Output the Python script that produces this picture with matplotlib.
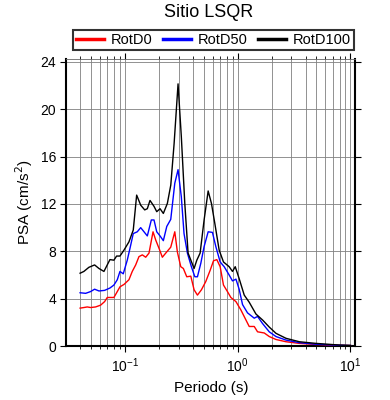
import matplotlib
matplotlib.use('Agg')
import matplotlib.pyplot as plt
from matplotlib.ticker import LogLocator, NullFormatter, MultipleLocator

plt.rcParams['font.family'] = ['Liberation Sans', 'DejaVu Sans']

# Periods (s) and PSA (cm/s2)
periodo_d0 = [0.040, 0.0432, 0.0463, 0.0496, 0.0549, 0.0608, 0.066, 0.0697, 0.0798,
              0.0855, 0.0903, 0.098, 0.1085, 0.1161, 0.1245, 0.1331, 0.1426, 0.1528,
              0.1634, 0.1774, 0.1875, 0.2006, 0.2146, 0.23, 0.2548, 0.2767, 0.2917,
              0.3126, 0.3296, 0.3533, 0.3838, 0.4105, 0.4395, 0.4768, 0.5212, 0.570,
              0.610, 0.653, 0.699, 0.748, 0.811, 0.870, 0.965, 1.067, 1.183, 1.265,
              1.402, 1.5, 1.721, 1.905, 2.186, 2.681, 3.52, 4.96, 7.98, 10.0]
rotd0 = [3.2, 3.25, 3.3, 3.25, 3.3, 3.45, 3.75, 4.1, 4.1,
         4.6, 5.0, 5.2, 5.6, 6.3, 6.85, 7.55, 7.7, 7.5,
         7.85, 9.65, 8.95, 8.25, 7.5, 7.85, 8.35, 9.65, 7.95,
         6.7, 6.55, 5.85, 5.9, 4.75, 4.3, 4.75, 5.45, 6.4,
         7.2, 7.3, 6.7, 5.15, 4.6, 4.1, 3.75, 3.05, 2.2, 1.65,
         1.65, 1.2, 1.1, 0.8, 0.55, 0.36, 0.22, 0.13, 0.06, 0.04]

periodo_d50 = [0.040, 0.0448, 0.0496, 0.0538, 0.0588, 0.066, 0.0736, 0.0798, 0.0855,
               0.0903, 0.0966, 0.1048, 0.1108, 0.1185, 0.1286, 0.1379, 0.1476, 0.1579,
               0.1713, 0.181, 0.1914, 0.2048, 0.219, 0.2349, 0.2548, 0.2767, 0.2958,
               0.3162, 0.3342, 0.358, 0.3884, 0.4169, 0.4395, 0.4711, 0.5036, 0.547,
               0.597, 0.640, 0.699, 0.759, 0.840, 0.899, 0.965, 1.03, 1.104, 1.222,
               1.402, 1.5, 1.661, 1.905, 2.186, 2.681, 3.52, 4.96, 7.98, 10.0]
rotd50 = [4.5, 4.45, 4.6, 4.8, 4.65, 4.7, 4.9, 5.15, 5.6,
          6.3, 6.1, 7.25, 8.25, 9.5, 9.65, 10.0, 9.65, 9.3,
          10.65, 10.65, 9.65, 9.3, 8.9, 10.1, 10.7, 13.75, 14.9,
          12.6, 9.5, 7.85, 6.7, 5.85, 5.85, 7.0, 8.4, 9.65,
          9.6, 8.4, 7.1, 6.7, 6.0, 5.5, 5.65, 4.8, 3.5, 2.8,
          2.35, 2.5, 1.9, 1.2, 0.8, 0.5, 0.28, 0.15, 0.06, 0.04]

periodo_d100 = [0.040, 0.0432, 0.0479, 0.0538, 0.0588, 0.0651, 0.0736, 0.0798, 0.0843,
                0.0903, 0.098, 0.1085, 0.1185, 0.127, 0.1379, 0.1497, 0.1579, 0.1668,
                0.181, 0.1914, 0.2048, 0.219, 0.2378, 0.255, 0.2729, 0.2958, 0.3162,
                0.3394, 0.3631, 0.4105, 0.4339, 0.4642, 0.5036, 0.547, 0.585, 0.627,
                0.685, 0.748, 0.840, 0.899, 0.951, 1.03, 1.143, 1.265, 1.452, 1.661,
                1.905, 2.186, 2.681, 3.52, 4.96, 7.98, 10.0]
rotd100 = [6.15, 6.3, 6.65, 6.85, 6.55, 6.3, 7.3, 7.25, 7.6,
           7.6, 8.1, 8.8, 9.8, 12.75, 11.9, 11.5, 11.6, 12.3,
           11.8, 11.35, 11.6, 11.2, 12.05, 13.6, 17.1, 22.15, 17.7,
           12.05, 7.85, 6.55, 7.25, 7.85, 10.65, 13.1, 12.05, 10.35,
           8.1, 7.1, 6.7, 6.3, 6.7, 5.7, 4.3, 3.7, 2.7, 2.2,
           1.6, 1.07, 0.65, 0.36, 0.22, 0.08, 0.05]

fig = plt.figure(figsize=(3.9, 4.0), dpi=100)
ax = fig.add_axes([0.1705, 0.135, 0.740, 0.7175])

ax.plot(periodo_d0, rotd0, color='red', lw=1.0, label='RotD0', zorder=3)
ax.plot(periodo_d50, rotd50, color='blue', lw=1.0, label='RotD50', zorder=4)
ax.plot(periodo_d100, rotd100, color='black', lw=1.0, label='RotD100', zorder=5)

ax.set_xscale('log')
ax.set_xlim(0.0303, 11.0)
ax.set_ylim(0, 24.25)
ax.xaxis.set_major_locator(LogLocator(base=10, numticks=10))
ax.xaxis.set_minor_locator(LogLocator(base=10, subs=range(2, 10), numticks=10))
ax.xaxis.set_minor_formatter(NullFormatter())
ax.yaxis.set_major_locator(MultipleLocator(4))

ax.grid(True, which='both', axis='x', color='0.5', lw=0.6)
ax.grid(True, which='major', axis='y', color='0.5', lw=0.6)
ax.set_axisbelow(True)

for side in ['left', 'bottom', 'right']:
    ax.spines[side].set_linewidth(1.5)
ax.spines['top'].set_linewidth(0.6)
ax.spines['top'].set_color('0.4')

ax.tick_params(which='major', direction='out', length=4, width=0.8,
               labelsize=10, top=True, right=True)
ax.tick_params(which='minor', direction='out', length=2.5, width=0.6, top=True)
ax.tick_params(axis='y', right=True, labelright=False)

ax.set_xlabel('Periodo (s)', fontsize=11)
ax.set_ylabel('PSA (cm/s$^2$)', fontsize=11)
fig.text(0.535, 0.968, 'Sitio LSQR', ha='center', va='center', fontsize=13)

leg = ax.legend(loc='center', bbox_to_anchor=(0.548, 0.9), bbox_transform=fig.transFigure,
                ncol=3, fontsize=10.5, frameon=True, fancybox=False, handlelength=1.9,
                handletextpad=0.5, columnspacing=0.7, borderpad=0.2)
leg.get_frame().set_edgecolor('black')
leg.get_frame().set_linewidth(1.5)
for line in leg.get_lines():
    line.set_linewidth(2.5)

fig.savefig('out.png', dpi=100)
